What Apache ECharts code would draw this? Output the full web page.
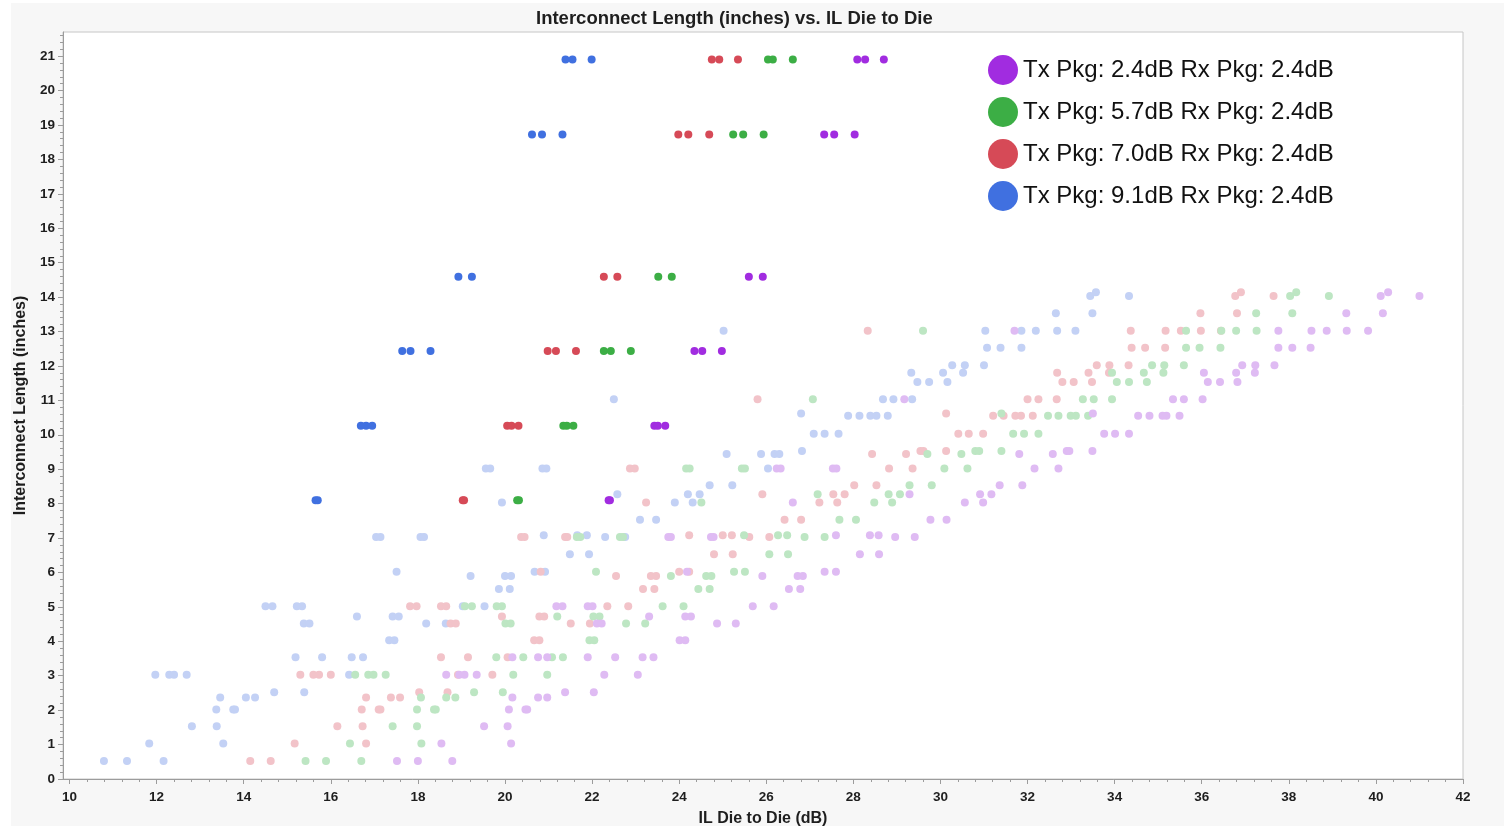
<!DOCTYPE html>
<html><head><meta charset="utf-8">
<script src="https://cdn.jsdelivr.net/npm/echarts@6/dist/echarts.min.js"></script>
<style>html,body{margin:0;padding:0;background:#fff}#c{width:1504px;height:826px}</style>
</head><body><div id="c"></div><script>
// ---- text ----
const chartTitle = 'Interconnect Length (inches) vs. IL Die to Die';
const xName = 'IL Die to Die (dB)';
const yName = 'Interconnect Length (inches)';
const seriesNames = ['Tx Pkg: 2.4dB Rx Pkg: 2.4dB','Tx Pkg: 5.7dB Rx Pkg: 2.4dB','Tx Pkg: 7.0dB Rx Pkg: 2.4dB','Tx Pkg: 9.1dB Rx Pkg: 2.4dB'];
const xTickValues = [10,12,14,16,18,20,22,24,26,28,30,32,34,36,38,40,42];
const yTickValues = [0,1,2,3,4,5,6,7,8,9,10,11,12,13,14,15,16,17,18,19,20,21];

// ---- highlighted points: [length, [IL values...]] ----
const solidPurpleRows = [[20.9,[28.09,28.27,28.70]],[18.72,[27.33,27.56,28.03]],[14.59,[25.60,25.92]],[12.43,[24.35,24.53,24.98]],[10.26,[23.43,23.51,23.68]],[8.1,[22.38,22.41]]];
const solidGreenRows  = [[20.9,[26.04,26.15,26.61]],[18.72,[25.24,25.47,25.94]],[14.59,[23.52,23.83]],[12.43,[22.27,22.43,22.89]],[10.26,[21.34,21.42,21.57]],[8.1,[20.28,20.32]]];
const solidRedRows    = [[20.9,[24.75,24.92,25.35]],[18.72,[23.98,24.21,24.69]],[14.59,[22.27,22.58]],[12.43,[20.98,21.17,21.63]],[10.26,[20.05,20.15,20.31]],[8.1,[19.03,19.06]]];
const solidBlueRows   = [[20.9,[21.39,21.55,21.99]],[18.72,[20.62,20.85,21.32]],[14.59,[18.93,19.24]],[12.43,[17.64,17.83,18.29]],[10.26,[16.69,16.81,16.95]],[8.1,[15.65,15.70]]];

// ---- background (faded) points ----
const fadedBlueRows = [
[0.52,[10.79,11.32,12.16]],[1.03,[11.83,13.53]],[1.53,[12.81,13.38]],[2.02,[13.37,13.76,13.80]],
[2.37,[13.46,14.05,14.26]],[2.52,[14.70,15.39]],[3.03,[11.97,12.29,12.40,12.69,16.42]],
[3.54,[15.19,15.80,16.48,16.74]],[4.03,[17.34,17.46]],[4.52,[15.38,15.51,18.19,18.64]],
[4.72,[16.60,17.42,17.56]],[5.02,[14.50,14.66,15.22,15.34,19.03,19.53]],[5.52,[19.86,20.11]],
[5.90,[19.21,20.00,20.14]],[6.02,[17.51,20.68,20.92]],[6.53,[21.49,21.93]],
[7.03,[17.04,17.14,18.06,18.14,22.30,22.76]],[7.08,[20.89,21.66,21.88]],[7.53,[23.10,23.47]],
[8.03,[19.93,23.90,24.31]],[8.27,[22.58,24.20,24.47]],[8.53,[24.70,25.22]],
[9.02,[19.56,19.66,20.86,20.95,26.04]],[9.44,[25.09,25.88,26.19,26.30]],[9.53,[26.82]],
[10.03,[27.09,27.34,27.66]],[10.55,[27.88,28.14,28.39,28.53,28.79]],[10.62,[26.80]],
[11.03,[22.50,28.68,28.92,29.35]],[11.53,[29.47,29.74,30.16]],[11.80,[29.33,30.06,30.52]],
[12.02,[30.27,30.56,31.00]],[12.53,[31.07,31.38,31.86]],[13.02,[25.02,31.03,31.86,32.19,32.68,33.10]],
[13.53,[32.65,33.49]],[14.03,[33.44,34.33]],[14.14,[33.57]]
];
const fadedPinkRows = [
[0.52,[14.15,14.62]],[1.03,[15.17,16.81]],[1.53,[16.15,16.73]],[2.02,[16.71,17.10,17.14]],
[2.37,[16.81,17.38,17.59]],[2.52,[18.03,18.68]],[3.03,[15.30,15.60,15.73,16.00,18.92,19.71]],
[3.54,[18.53,19.15,20.06]],[4.03,[20.67,20.79]],[4.52,[18.75,18.87,21.51,21.95]],
[4.72,[19.93,20.79,20.90]],[5.02,[17.82,17.97,18.53,18.65,22.35,22.83]],[5.52,[23.17,23.43]],
[5.90,[22.55,23.35,23.47]],[6.02,[20.82,24.00,24.23]],[6.53,[24.80,25.23]],
[7.03,[20.37,20.45,21.38,21.43,25.61,26.07]],[7.08,[24.23,25.00,25.21]],[7.53,[26.42,26.80]],
[8.03,[23.24,27.22,27.63]],[8.27,[25.91,27.54,27.80]],[8.53,[28.02,28.53]],
[9.02,[22.87,22.98,28.82,29.36]],[9.44,[28.43,29.21]],[9.53,[29.54,29.61,30.13]],
[10.03,[30.41,30.65,30.98]],[10.55,[31.21,31.45,31.72,31.85,32.12]],[10.62,[30.13]],
[11.03,[25.80,32.00,32.25,32.67]],[11.53,[32.80,33.06,33.48]],[11.80,[32.68,33.40,33.87]],
[12.02,[33.59,33.88,34.32]],[12.53,[34.39,34.70,35.16]],[13.02,[28.33,34.37,35.17,35.52,35.98,36.44]],
[13.53,[35.97,36.81]],[14.03,[36.77,37.65]],[14.14,[36.90]]
];
const fadedGreenRows = [
[0.52,[15.42,15.89,16.70]],[1.03,[16.44,18.08]],[1.53,[17.42,17.98]],[2.02,[17.98,18.37,18.41]],
[2.37,[18.07,18.65,18.86]],[2.52,[19.29,19.95]],[3.03,[16.56,16.86,16.98,17.26,20.19,20.97]],
[3.54,[19.80,20.42,21.08,21.33]],[4.03,[21.94,22.05]],[4.52,[20.01,20.13,22.78,23.22]],
[4.72,[21.20,22.03,22.17]],[5.02,[19.08,19.24,19.81,19.93,23.62,24.10]],[5.52,[24.44,24.70]],
[5.90,[23.81,24.62,24.74]],[6.02,[22.09,25.26,25.51]],[6.53,[26.07,26.50]],
[7.03,[21.65,21.73,22.64,22.71,26.88,27.34]],[7.08,[25.49,26.27,26.48]],[7.53,[27.68,28.06]],
[8.03,[24.51,28.48,28.89]],[8.27,[27.18,28.81,29.07]],[8.53,[29.29,29.80]],
[9.02,[24.16,24.24,25.44,25.51,30.09,30.62]],[9.44,[29.70,30.48]],[9.53,[30.80,30.89,31.40]],
[10.03,[31.67,31.92,32.25]],[10.55,[32.47,32.71,32.99,33.11,33.39]],[10.62,[31.40]],
[11.03,[27.07,33.27,33.52,33.94]],[11.53,[34.05,34.33,34.74]],[11.80,[33.94,34.67,35.12]],
[12.02,[34.86,35.14,35.59]],[12.53,[35.64,35.95,36.43]],[13.02,[29.60,35.64,36.45,36.79,37.26]],
[13.53,[37.25,38.08]],[14.03,[38.03,38.92]],[14.14,[38.17]]
];
const fadedPurpleRows = [
[0.52,[17.52,18.00,18.79]],[1.03,[18.54,20.14]],[1.53,[19.52,20.06]],[2.02,[20.09,20.47,20.51]],
[2.37,[20.17,20.76,20.97]],[2.52,[21.38,22.04]],[3.03,[18.65,18.95,19.07,19.35,22.28,23.05]],
[3.54,[20.17,20.76,20.97,21.90,22.53,23.16,23.41]],[4.03,[24.01,24.14]],[4.52,[22.11,22.22,24.87,25.30]],
[4.72,[23.31,24.14,24.27]],[5.02,[21.18,21.32,21.90,22.01,25.69,26.17]],[5.52,[26.52,26.78]],
[5.90,[25.91,26.72,26.84]],[6.02,[24.18,27.34,27.60]],[6.53,[28.15,28.59]],
[7.03,[23.75,23.81,24.73,24.79,28.96,29.41]],[7.08,[27.60,28.38,28.58]],[7.53,[29.77,30.14]],
[8.03,[26.61,30.56,30.98]],[8.27,[29.29,30.91,31.17]],[8.53,[31.36,31.88]],
[9.02,[26.24,26.33,27.53,27.61,32.16,32.71]],[9.44,[31.81,32.58]],[9.53,[32.90,32.96,33.49]],
[10.03,[33.76,34.01,34.33]],[10.55,[34.54,34.80,35.10,35.19,35.49]],[10.62,[33.50]],
[11.03,[29.17,35.34,35.59,36.02]],[11.53,[36.14,36.42,36.82]],[11.80,[36.05,36.79,37.22]],
[12.02,[36.93,37.23,37.67]],[12.53,[37.76,38.08,38.50]],[13.02,[31.70,37.76,38.52,38.87,39.33,39.82]],
[13.53,[39.32,40.16]],[14.03,[40.11,41.00]],[14.14,[40.28]]
];

// ---- build ----
function toPoints(rows){const out=[];rows.forEach(r=>r[1].forEach(x=>out.push([x,r[0]])));return out;}
const solidColors = ['#a12ce0','#3cae45','#d64a57','#4070e0'];
const fadedColors = ['#dfbbf3','#bde6c3','#f2c3c9','#c3d1f5'];
const X_MIN = 9.85, X_MAX = 42, Y_MIN = 0, Y_MAX = 21.7;
const minorX=[]; for(let i=0;i<=80;i++){const v=+(10+i*0.4).toFixed(2); if(i%5) minorX.push(v);}
const minorY=[]; for(let i=0;i<=108;i++){const v=+(i*0.2).toFixed(2); if(i%5) minorY.push(v);}
const font='Liberation Sans';
const axisCol='#9c9c9c';
function scatter(name,data,color,z){return {type:'scatter',name,data,symbol:'circle',symbolSize:8,itemStyle:{color,opacity:1},z,silent:true,animation:false,xAxisIndex:0,yAxisIndex:0};}
const series=[
 scatter('bg9.1',toPoints(fadedBlueRows),fadedColors[3],2),
 scatter('bg7.0',toPoints(fadedPinkRows),fadedColors[2],2),
 scatter('bg5.7',toPoints(fadedGreenRows),fadedColors[1],2),
 scatter('bg2.4',toPoints(fadedPurpleRows),fadedColors[0],2),
 scatter(seriesNames[3],toPoints(solidBlueRows),solidColors[3],3),
 scatter(seriesNames[2],toPoints(solidRedRows),solidColors[2],3),
 scatter(seriesNames[1],toPoints(solidGreenRows),solidColors[1],3),
 scatter(seriesNames[0],toPoints(solidPurpleRows),solidColors[0],3)
];
const chart=echarts.init(document.getElementById('c'),null,{renderer:'canvas'});
chart.setOption({
 animation:false,
 backgroundColor:'#f7f7f7',
 textStyle:{fontFamily:font},
 graphic:[
  {type:'rect',left:0,top:0,shape:{width:11,height:826},style:{fill:'#ffffff'},silent:true},
  {type:'rect',left:0,top:0,shape:{width:1504,height:3},style:{fill:'#ffffff'},silent:true}
 ],
 title:{text:chartTitle,left:536,top:9,padding:0,textStyle:{fontFamily:font,fontSize:18.5,fontWeight:'bold',color:'#1e1e1e'}},
 legend:{orient:'vertical',left:988,top:55,itemWidth:30,itemHeight:30,itemGap:12,icon:'circle',selectedMode:false,padding:0,
   data:seriesNames,textStyle:{fontFamily:font,fontSize:24,color:'#111'}},
 grid:{left:63,top:32,right:41,bottom:47,show:true,backgroundColor:'#ffffff',borderColor:'#c6c6c6',borderWidth:1,containLabel:false,outerBoundsMode:'none'},
 xAxis:[
  {type:'value',min:X_MIN,max:X_MAX,position:'bottom',
   axisLine:{show:true,onZero:false,lineStyle:{color:axisCol}},
   axisTick:{show:true,customValues:xTickValues,length:5,lineStyle:{color:axisCol}},
   axisLabel:{customValues:xTickValues,fontFamily:font,fontSize:13.5,fontWeight:'bold',color:'#1e1e1e',margin:11},
   splitLine:{show:false},
   name:xName,nameLocation:'middle',nameGap:32,nameTextStyle:{fontFamily:font,fontSize:16,fontWeight:'bold',color:'#1e1e1e'}},
  {type:'value',min:X_MIN,max:X_MAX,position:'bottom',
   axisLine:{show:false},axisTick:{show:true,customValues:minorX,length:3,lineStyle:{color:axisCol}},
   axisLabel:{show:false},splitLine:{show:false}}
 ],
 yAxis:[
  {type:'value',min:Y_MIN,max:Y_MAX,position:'left',
   axisLine:{show:true,onZero:false,lineStyle:{color:axisCol}},
   axisTick:{show:true,customValues:yTickValues,length:5,lineStyle:{color:axisCol}},
   axisLabel:{customValues:yTickValues,fontFamily:font,fontSize:13.5,fontWeight:'bold',color:'#1e1e1e',margin:8},
   splitLine:{show:false},
   name:yName,nameLocation:'middle',nameGap:31,nameTextStyle:{fontFamily:font,fontSize:16,fontWeight:'bold',color:'#1e1e1e'}},
  {type:'value',min:Y_MIN,max:Y_MAX,position:'left',
   axisLine:{show:false},axisTick:{show:true,customValues:minorY,length:3,lineStyle:{color:axisCol}},
   axisLabel:{show:false},splitLine:{show:false}}
 ],
 series
});
</script></body></html>
